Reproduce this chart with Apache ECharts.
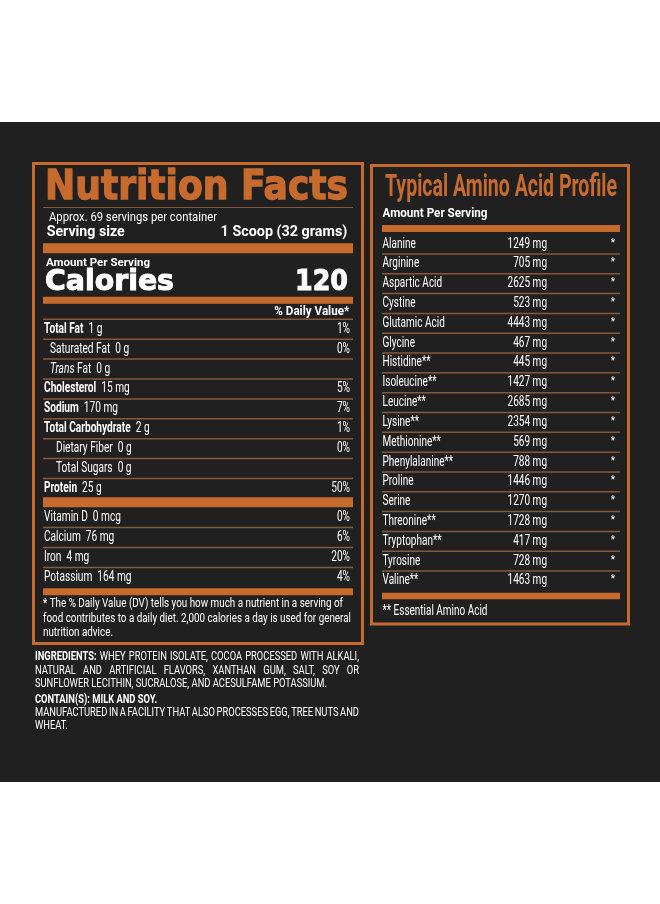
<!DOCTYPE html>
<html><head><meta charset="utf-8">
<script src="https://cdn.jsdelivr.net/npm/echarts@6.0.0/dist/echarts.min.js"></script>
<style>html,body{margin:0;padding:0;background:#fff}#c{width:660px;height:904px}</style>
</head><body><div id="c"></div><script>
// ---------- DATA ----------
const titleLeft = 'Nutrition Facts';
const servingsText = 'Approx. 69 servings per container';
const servingSizeLabel = 'Serving size';
const servingSizeValue = '1 Scoop (32 grams)';
const caloriesValue = 120;

const nutrientNames   = ['Total Fat','Saturated Fat','Trans Fat','Cholesterol','Sodium','Total Carbohydrate','Dietary Fiber','Total Sugars','Protein'];
const nutrientAmounts = ['1 g','0 g','0 g','15 mg','170 mg','2 g','0 g','0 g','25 g'];
const nutrientDV      = ['1%','0%','','5%','7%','1%','0%','','50%'];
const nutrientLevel   = [0,1,1,0,0,0,2,2,0];

const vitaminNames   = ['Vitamin D','Calcium','Iron','Potassium'];
const vitaminAmounts = ['0 mcg','76 mg','4 mg','164 mg'];
const vitaminDV      = ['0%','6%','20%','4%'];

const footnoteLines = [
  '* The % Daily Value (DV) tells you how much a nutrient in a serving of',
  'food contributes to a daily diet. 2,000 calories a day is used for general',
  'nutrition advice.'
];

const titleRight = 'Typical Amino Acid Profile';
const aminoNames = ['Alanine','Arginine','Aspartic Acid','Cystine','Glutamic Acid','Glycine','Histidine**','Isoleucine**','Leucine**','Lysine**','Methionine**','Phenylalanine**','Proline','Serine','Threonine**','Tryptophan**','Tyrosine','Valine**'];
const aminoMg    = [1249,705,2625,523,4443,467,445,1427,2685,2354,569,788,1446,1270,1728,417,728,1463];
const aminoNote  = '** Essential Amino Acid';

const ingredientLines = [
  'INGREDIENTS: WHEY PROTEIN ISOLATE, COCOA PROCESSED WITH ALKALI,',
  'NATURAL AND ARTIFICIAL FLAVORS, XANTHAN GUM, SALT, SOY OR',
  'SUNFLOWER LECITHIN, SUCRALOSE, AND ACESULFAME POTASSIUM.'
];
const allergenLine = 'CONTAIN(S): MILK AND SOY.';
const facilityLines = [
  'MANUFACTURED IN A FACILITY THAT ALSO PROCESSES EGG, TREE NUTS AND',
  'WHEAT.'
];

// ---------- STYLE ----------
const ORANGE = '#c76a2d', SEP = '#86593a', BG = '#202020', TXT = '#ffffff';
const ROW_FS = 14;
const cv = document.createElement('canvas').getContext('2d');
function tw(t, size, weight, fam, style) {
  cv.font = (style || 'normal') + ' ' + (weight || 'normal') + ' ' + size + 'px ' + (fam || 'Roboto');
  return cv.measureText(t).width;
}
function gtext(text, x, y, o) {
  const al = o.align || 'left';
  return { type: 'text', x: x, y: y, scaleX: o.scale || 1, silent: true, z: 20,
    style: { text: text, fill: o.fill || TXT, fontSize: o.size, fontFamily: o.family || 'Roboto',
      fontWeight: o.weight || 'normal', fontStyle: o.fstyle || 'normal',
      stroke: o.stroke || null, lineWidth: o.lw || 0,
      align: al, textAlign: al, verticalAlign: 'middle', textVerticalAlign: 'middle' } };
}
function fitText(text, x, y, target, o) {
  const w = tw(text, o.size, o.weight, o.family, o.fstyle);
  o.scale = target / w;
  return gtext(text, x, y, o);
}
function grect(x, y, w, h, fill) {
  return { type: 'rect', silent: true, z: 15, shape: { x: x, y: y, width: w, height: h }, style: { fill: fill } };
}
function gbox(x, y, w, h) {
  return { type: 'rect', silent: true, z: 15, shape: { x: x, y: y, width: w, height: h }, style: { fill: null, stroke: ORANGE, lineWidth: 3 } };
}
function gline(x1, y1, x2, y2, color, lw) {
  return { type: 'line', silent: true, z: 15, shape: { x1: x1, y1: y1, x2: x2, y2: y2 }, style: { stroke: color, lineWidth: lw } };
}

const rowScale = 56.7 / tw('Dietary Fiber', ROW_FS);
const aminoScale = 62.3 / tw('Glutamic Acid', ROW_FS);

// ---------- GRAPHICS ----------
const graphics = [];
graphics.push({ type: 'rect', silent: true, z: 1, shape: { x: 0, y: 122, width: 660, height: 660 }, style: { fill: BG } });
graphics.push(gbox(33.5, 163.5, 329, 480));
graphics.push(gbox(371.5, 165.5, 257, 458.5));

// left panel header
graphics.push(fitText(titleLeft, 45, 189, 303, { size: 40, weight: 'bold', family: 'DejaVu Sans', fill: ORANGE, stroke: ORANGE, lw: 1.4 }));
graphics.push(gline(43, 207.5, 353, 207.5, SEP, 1));
graphics.push(fitText(servingsText, 49, 217.8, 168, { size: 13 }));
graphics.push(fitText(servingSizeLabel, 46.7, 232, 78, { size: 15, weight: 'bold' }));
graphics.push(fitText(servingSizeValue, 347.3, 232, 126.7, { size: 15, weight: 'bold', align: 'right' }));
graphics.push(grect(43, 243.3, 310, 10, ORANGE));
graphics.push(fitText('Amount Per Serving', 46, 262.8, 104, { size: 11.5, weight: 'bold' }));
graphics.push(fitText('Calories', 45, 283, 129, { size: 28, weight: 'bold', family: 'DejaVu Sans', stroke: TXT, lw: 1 }));
graphics.push(fitText(String(caloriesValue), 348, 283, 53, { size: 28, weight: 'bold', family: 'DejaVu Sans', align: 'right', stroke: TXT, lw: 1 }));
graphics.push(grect(43, 296.7, 310, 7, ORANGE));
graphics.push(fitText('% Daily Value*', 349.3, 312, 75, { size: 12.5, weight: 'bold', align: 'right' }));
graphics.push(grect(43, 497.3, 310, 10, ORANGE));
graphics.push(grect(43, 588.3, 310, 7, ORANGE));
(function () {
  const sc = 300 / tw(footnoteLines[0], 13.5);
  const ys = [603.8, 618.3, 633];
  footnoteLines.forEach((t, k) => graphics.push(gtext(t, 43, ys[k], { size: 13.5, scale: sc })));
})();

// right panel
graphics.push(fitText(titleRight, 385, 188.5, 232, { size: 31, weight: 'bold', fill: ORANGE }));
graphics.push(fitText('Amount Per Serving', 382.5, 213.5, 105, { size: 12.5, weight: 'bold' }));
graphics.push(grect(382, 225, 238, 7, ORANGE));
graphics.push(grect(382, 592.8, 238, 6.5, ORANGE));
graphics.push(fitText(aminoNote, 382.5, 611.5, 105, { size: 14 }));

// ingredients paragraph
(function () {
  const LEFT = 35, RIGHT = 359, FS = 12;
  const sc = 292 / tw(ingredientLines[2], FS);
  function line(text, y, justify, boldPrefix, allBold) {
    const words = text.split(' ');
    const bolds = words.map((w, k) => allBold || (boldPrefix && k === 0));
    const widths = words.map((w, k) => tw(w, FS, bolds[k] ? 'bold' : 'normal') * sc);
    const total = widths.reduce((a, b) => a + b, 0);
    const gap = justify ? (RIGHT - LEFT - total) / (words.length - 1) : tw(' ', FS) * sc;
    let x = LEFT;
    words.forEach((w, k) => {
      graphics.push(gtext(w, x, y, { size: FS, weight: bolds[k] ? 'bold' : 'normal', scale: sc }));
      x += widths[k] + gap;
    });
  }
  line(ingredientLines[0], 657, true, true, false);
  line(ingredientLines[1], 670.5, true, false, false);
  line(ingredientLines[2], 683.5, false, false, false);
  line(allergenLine, 700, false, false, true);
  line(facilityLines[0], 713, true, false, false);
  line(facilityLines[1], 726, false, false, false);
})();

// ---------- TABLE SERIES ----------
function richStyles(bold) {
  return {
    b: { fontSize: ROW_FS, fontFamily: 'Roboto', fontWeight: bold ? 'bold' : 'normal', fill: TXT, color: TXT },
    i: { fontSize: ROW_FS, fontFamily: 'Roboto', fontStyle: 'italic', fill: TXT, color: TXT },
    r: { fontSize: ROW_FS, fontFamily: 'Roboto', fill: TXT, color: TXT }
  };
}
function nutriRender(names, amounts, dvs, levels, boldTop, topLine) {
  return function (params, api) {
    const i = api.value(1);
    const c = api.coord([0, i]);
    const h = api.size([0, 1])[1];
    const cs = params.coordSys;
    const lvl = levels[i];
    const name = names[i];
    let label;
    if (name === 'Trans Fat') label = '{i|Trans}{r| Fat}';
    else label = '{b|' + name + '}';
    label += '{r|  ' + amounts[i] + '}';
    const kids = [
      { type: 'text', x: cs.x + 1 + lvl * 6, y: c[1], scaleX: rowScale,
        style: { text: label, rich: richStyles(boldTop && lvl === 0), fontSize: ROW_FS, fontFamily: 'Roboto', fill: TXT,
          align: 'left', textAlign: 'left', verticalAlign: 'middle', textVerticalAlign: 'middle' } },
      { type: 'text', x: cs.x + cs.width - 3, y: c[1], scaleX: rowScale,
        style: { text: dvs[i], fontSize: ROW_FS, fontFamily: 'Roboto', fill: TXT,
          align: 'right', textAlign: 'right', verticalAlign: 'middle', textVerticalAlign: 'middle' } }
    ];
    if (i < names.length - 1) kids.push({ type: 'line', shape: { x1: cs.x, y1: c[1] + h / 2, x2: cs.x + cs.width, y2: c[1] + h / 2 }, style: { stroke: SEP, lineWidth: 1.5 } });
    if (topLine && i === 0) kids.push({ type: 'line', shape: { x1: cs.x, y1: c[1] - h / 2, x2: cs.x + cs.width, y2: c[1] - h / 2 }, style: { stroke: SEP, lineWidth: 1.5 } });
    return { type: 'group', children: kids };
  };
}
function aminoRender(params, api) {
  const i = api.value(1);
  const c = api.coord([0, i]);
  const h = api.size([0, 1])[1];
  const cs = params.coordSys;
  const kids = [
    { type: 'text', x: cs.x + 0.5, y: c[1], scaleX: aminoScale,
      style: { text: aminoNames[i], fontSize: ROW_FS, fontFamily: 'Roboto', fill: TXT, align: 'left', textAlign: 'left', verticalAlign: 'middle', textVerticalAlign: 'middle' } },
    { type: 'text', x: cs.x + 165, y: c[1], scaleX: aminoScale,
      style: { text: aminoMg[i] + ' mg', fontSize: ROW_FS, fontFamily: 'Roboto', fill: TXT, align: 'right', textAlign: 'right', verticalAlign: 'middle', textVerticalAlign: 'middle' } },
    { type: 'text', x: cs.x + cs.width - 7, y: c[1] - 1,
      style: { text: '*', fontSize: 10, fontFamily: 'Roboto', fill: TXT, align: 'center', textAlign: 'center', verticalAlign: 'middle', textVerticalAlign: 'middle' } }
  ];
  if (i < aminoNames.length - 1) kids.push({ type: 'line', shape: { x1: cs.x, y1: c[1] + h / 2, x2: cs.x + cs.width, y2: c[1] + h / 2 }, style: { stroke: SEP, lineWidth: 1.5 } });
  return { type: 'group', children: kids };
}

const chart = echarts.init(document.getElementById('c'), null, { renderer: 'canvas' });
chart.setOption({
  backgroundColor: '#ffffff',
  animation: false,
  grid: [
    { left: 43, width: 310, top: 319.3, height: 179.1 },
    { left: 43, width: 310, top: 507.5, height: 80 },
    { left: 382, width: 238, top: 234.1, height: 356.8 }
  ],
  xAxis: [0, 1, 2].map(g => ({ type: 'value', gridIndex: g, min: 0, max: 1, show: false })),
  yAxis: [
    { type: 'category', gridIndex: 0, data: nutrientNames, inverse: true, show: false },
    { type: 'category', gridIndex: 1, data: vitaminNames, inverse: true, show: false },
    { type: 'category', gridIndex: 2, data: aminoNames, inverse: true, show: false }
  ],
  graphic: { elements: graphics },
  series: [
    { type: 'custom', xAxisIndex: 0, yAxisIndex: 0, z: 30, silent: true, clip: false,
      data: nutrientNames.map((n, i) => [0, i]),
      renderItem: nutriRender(nutrientNames, nutrientAmounts, nutrientDV, nutrientLevel, true, true) },
    { type: 'custom', xAxisIndex: 1, yAxisIndex: 1, z: 30, silent: true, clip: false,
      data: vitaminNames.map((n, i) => [0, i]),
      renderItem: nutriRender(vitaminNames, vitaminAmounts, vitaminDV, [0, 0, 0, 0], false, false) },
    { type: 'custom', xAxisIndex: 2, yAxisIndex: 2, z: 30, silent: true, clip: false,
      data: aminoNames.map((n, i) => [0, i]),
      renderItem: aminoRender }
  ]
});
</script></body></html>
